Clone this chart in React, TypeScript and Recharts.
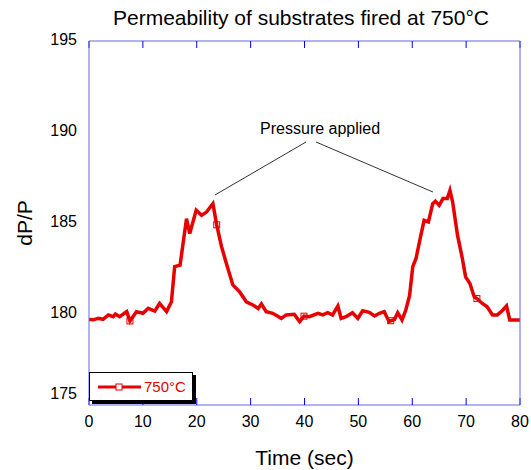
import React from 'react'
import {
  LineChart,
  Line,
  XAxis,
  YAxis,
  ReferenceLine,
  ReferenceDot,
} from 'recharts'

// time (sec) and dP/P
const times = [
  0, 0.8, 1.7, 2.6, 3.6, 4.5, 4.9, 5.7, 7.0, 7.6, 8.8, 10.0, 11.0, 12.2, 13.1, 14.4,
  15.3, 15.9, 16.9, 18.1, 18.7, 19.9, 20.9, 21.8, 23.0, 23.7, 24.6, 25.5, 26.7, 28.0,
  29.2, 30.4, 31.4, 32.0, 32.9, 34.1, 35.7, 36.6, 38.1, 39.1, 39.9, 40.9, 42.5, 43.4,
  44.3, 45.2, 46.2, 46.8, 47.7, 48.9, 49.9, 50.8, 52.0, 53.0, 53.9, 54.8, 55.7, 56.0,
  56.7, 57.3, 58.1, 58.8, 59.5, 60.1, 60.7, 61.6, 62.2, 63.0, 63.8, 64.3, 65.0, 65.7,
  66.5, 67.0, 67.5, 68.4, 69.3, 69.9, 70.7, 71.5, 72.0, 73.0, 73.9, 74.9, 75.8, 76.7,
  77.5, 78.1, 79.5, 80,
]
const dpp = [
  179.7, 179.68, 179.76, 179.71, 179.95, 179.85, 180.0, 179.85, 180.13, 179.62, 180.13,
  180.04, 180.31, 180.16, 180.58, 180.13, 180.67, 182.6, 182.68, 185.24, 184.42, 185.7,
  185.42, 185.6, 186.06, 184.9, 183.7, 182.78, 181.6, 181.2, 180.67, 180.5, 180.3,
  180.55, 180.13, 180.04, 179.76, 179.95, 179.98, 179.58, 179.88, 179.85, 180.04, 179.95,
  180.07, 179.95, 180.44, 179.76, 179.85, 180.07, 179.76, 180.18, 180.09, 179.89, 180.04,
  180.13, 179.58, 179.63, 179.7, 180.07, 179.67, 180.22, 181.0, 182.6, 183.05, 184.33,
  185.15, 185.06, 186.06, 186.2, 185.97, 186.34, 186.34, 186.79, 186.15, 184.33, 183.05,
  182.04, 181.68, 180.95, 180.85, 180.58, 180.4, 179.95, 179.95, 180.18, 180.44, 179.67,
  179.67, 179.67,
]
const markerTimes = [7.6, 23.7, 39.9, 56.0, 72.0]

const xTicks = [0, 10, 20, 30, 40, 50, 60, 70, 80]
const yTicks = [175, 180, 185, 190, 195]

const data = times.map((t, i) => ({ t, v: dpp[i] }))

const FONT = '"Liberation Sans", Arial, sans-serif'
const RED = '#e60000'
const AXIS = '#6464ee'
const TICK = '#0000ff'

const SquareDot = (props: any) => {
  const { cx, cy, payload } = props
  if (!markerTimes.includes(payload.t)) return <g key={props.index} />
  return (
    <rect
      key={props.index}
      x={cx - 3}
      y={cy - 3}
      width={6}
      height={6}
      fill="none"
      stroke={RED}
      strokeWidth={1}
    />
  )
}

const YTick = (props: any) => {
  const { x, y, payload } = props
  // bottom label sits a bit higher in the original
  const shift = payload.value === 175 ? -12 : -2
  return (
    <text x={x} y={y + shift} dy="0.36em" textAnchor="end" fontSize={16} fill="#000" fontFamily={FONT}>
      {payload.value}
    </text>
  )
}

const noLabel = () => ''

export default function App() {
  return (
    <div style={{ position: 'absolute', left: 0, top: 0, width: 531, height: 470, fontFamily: FONT }}>
      <div
        style={{
          position: 'absolute',
          top: 5,
          left: 0,
          width: 602,
          textAlign: 'center',
          fontSize: 21,
          lineHeight: '25px',
          color: '#000',
        }}
      >
        Permeability of substrates fired at 750°C
      </div>
      <LineChart width={531} height={470} data={data} margin={{ top: 41, right: 11, left: 0, bottom: 0 }}>
        <XAxis
          xAxisId="x"
          dataKey="t"
          type="number"
          domain={[0, 80]}
          ticks={xTicks}
          height={65}
          axisLine={{ stroke: AXIS }}
          tickLine={false}
          tickSize={0}
          tickMargin={11}
          tick={{ fontSize: 16, fill: '#000', fontFamily: FONT }}
          label={{ value: 'Time (sec)', position: 'insideBottom', offset: 5, fontSize: 21, fill: '#000', fontFamily: FONT }}
        />
        <XAxis
          xAxisId="xb"
          dataKey="t"
          type="number"
          domain={[0, 80]}
          ticks={xTicks}
          orientation="bottom"
          mirror
          axisLine={false}
          tickLine={{ stroke: TICK }}
          tickSize={7}
          tickFormatter={noLabel}
        />
        <XAxis
          xAxisId="xt"
          dataKey="t"
          type="number"
          domain={[0, 80]}
          ticks={xTicks}
          orientation="top"
          mirror
          axisLine={{ stroke: AXIS }}
          tickLine={{ stroke: TICK }}
          tickSize={7}
          tickFormatter={noLabel}
        />
        <YAxis
          yAxisId="y"
          type="number"
          domain={[175, 195]}
          ticks={yTicks}
          width={89}
          axisLine={{ stroke: AXIS }}
          tickLine={false}
          tickSize={0}
          tickMargin={12}
          tick={<YTick />}
          label={{
            value: 'dP/P',
            angle: -90,
            position: 'insideLeft',
            offset: 25,
            fontSize: 21,
            fill: '#000',
            fontFamily: FONT,
            style: { textAnchor: 'middle' },
          }}
        />
        <YAxis
          yAxisId="yl"
          type="number"
          domain={[175, 195]}
          ticks={yTicks}
          orientation="left"
          mirror
          axisLine={false}
          tickLine={{ stroke: TICK }}
          tickSize={7}
          tickFormatter={noLabel}
        />
        <YAxis
          yAxisId="yr"
          type="number"
          domain={[175, 195]}
          ticks={yTicks}
          orientation="right"
          mirror
          axisLine={{ stroke: AXIS }}
          tickLine={{ stroke: TICK }}
          tickSize={7}
          tickFormatter={noLabel}
        />
        <ReferenceLine
          xAxisId="x"
          yAxisId="y"
          segment={[{ x: 40.28, y: 189.45 }, { x: 23.39, y: 186.54 }]}
          stroke="#333"
          strokeWidth={1}
        />
        <ReferenceLine
          xAxisId="x"
          yAxisId="y"
          segment={[{ x: 42.13, y: 189.45 }, { x: 63.85, y: 186.7 }]}
          stroke="#333"
          strokeWidth={1}
        />
        <ReferenceDot
          xAxisId="x"
          yAxisId="y"
          x={42.9}
          y={190.2}
          r={1}
          fill="none"
          stroke="none"
          label={{ value: 'Pressure applied', position: 'center', fontSize: 16, fill: '#000', fontFamily: FONT }}
        />
        <Line
          xAxisId="x"
          yAxisId="y"
          dataKey="v"
          type="linear"
          stroke={RED}
          strokeWidth={3.5}
          dot={<SquareDot />}
          activeDot={false}
          isAnimationActive={false}
        />
      </LineChart>
      <div
        style={{
          position: 'absolute',
          left: 89,
          top: 372,
          width: 104,
          height: 29,
          border: '1px solid #000',
          boxShadow: '3px 3px 0 #000',
          background: '#fff',
          boxSizing: 'border-box',
          display: 'flex',
          alignItems: 'center',
        }}
      >
        <svg width={48} height={12} style={{ marginLeft: 6 }}>
          <line x1={2} y1={6} x2={45} y2={6} stroke={RED} strokeWidth={3} />
          <rect x={20} y={3} width={6} height={6} fill="#fff" stroke={RED} strokeWidth={1} />
        </svg>
        <span style={{ color: RED, fontSize: 15 }}>750°C</span>
      </div>
    </div>
  )
}
